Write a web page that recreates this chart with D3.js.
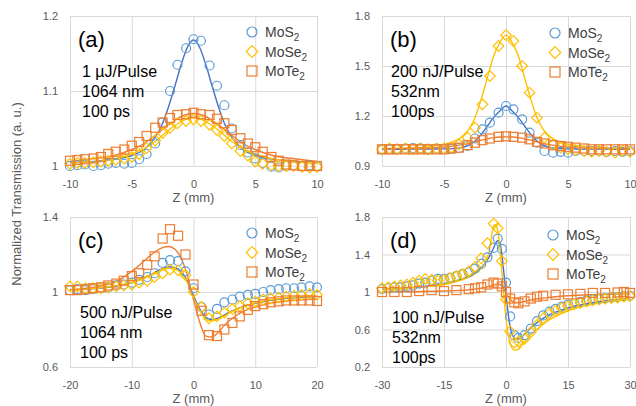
<!DOCTYPE html>
<html>
<head>
<meta charset="utf-8">
<script src="https://cdn.jsdelivr.net/npm/d3@7"></script>
<style>
  html, body { margin: 0; padding: 0; background: #fff; }
  svg { display: block; font-family: "Liberation Sans", Arial, sans-serif; }
</style>
</head>
<body>
<div id="chart"></div>
<script>
// ---------- data ----------
const seriesNames = ["MoS", "MoSe", "MoTe"];

// panel (a): 1 µJ/Pulse, 1064 nm
const zA = [-10,-9.4,-8.8,-8.1,-7.5,-6.9,-6.3,-5.6,-5,-4.4,-3.8,-3.1,-2.5,-1.9,-1.3,-0.6,0,0.6,1.3,1.9,2.5,3.1,3.8,4.4,5,5.6,6.3,6.9,7.5,8.1,8.8,9.4,10];
const mos2A  = [1.000,1.001,1.002,1.000,1.001,1.003,1.004,1.003,1.004,1.009,1.016,1.030,1.058,1.100,1.135,1.157,1.169,1.167,1.134,1.107,1.081,1.050,1.028,1.018,1.010,1.004,0.999,0.998,1.000,1.001,1.000,1.001,1.000];
const mose2A = [1.003,1.004,1.004,1.005,1.006,1.007,1.008,1.010,1.012,1.016,1.024,1.034,1.044,1.051,1.057,1.060,1.062,1.060,1.055,1.048,1.040,1.030,1.020,1.014,1.006,1.003,1.001,1.000,1.000,1.000,0.999,0.998,0.999];
const mote2A = [1.007,1.008,1.009,1.010,1.012,1.016,1.019,1.022,1.027,1.032,1.040,1.051,1.058,1.064,1.068,1.069,1.071,1.069,1.068,1.063,1.057,1.048,1.037,1.030,1.025,1.019,1.012,1.007,1.002,1.001,1.000,1.000,1.000];
const fitZA = [-10,-9,-8,-7,-6,-5,-4,-3.5,-3,-2.5,-2,-1.5,-1,-0.5,0,0.5,1,1.5,2,2.5,3,3.5,4,5,6,7,8,9,10];
const fitMos2A  = [1.004,1.005,1.006,1.008,1.010,1.014,1.022,1.030,1.041,1.057,1.080,1.107,1.135,1.158,1.168,1.158,1.135,1.107,1.080,1.057,1.041,1.030,1.022,1.014,1.010,1.008,1.006,1.005,1.004];
const fitMose2A = [1.004,1.005,1.006,1.008,1.011,1.016,1.023,1.028,1.034,1.041,1.048,1.054,1.059,1.063,1.064,1.063,1.059,1.054,1.048,1.041,1.034,1.028,1.023,1.016,1.011,1.008,1.006,1.005,1.004];
const fitMote2A = [1.006,1.008,1.010,1.012,1.016,1.022,1.030,1.036,1.042,1.049,1.055,1.061,1.066,1.069,1.070,1.069,1.066,1.061,1.055,1.049,1.042,1.036,1.030,1.022,1.016,1.012,1.010,1.008,1.006];

// panel (b): 200 nJ/Pulse, 532 nm
const zB = zA;
const mos2B  = [1.000,1.000,1.003,1.005,1.008,1.006,1.003,1.004,1.002,1.003,1.008,1.020,1.065,1.120,1.160,1.220,1.260,1.240,1.180,1.100,1.040,0.990,0.980,0.985,0.980,0.990,0.990,0.990,0.990,0.985,0.990,0.985,0.990];
const mose2B = [1.000,1.005,1.000,1.005,1.000,1.005,1.000,1.005,1.005,1.010,1.030,1.070,1.130,1.270,1.440,1.620,1.685,1.650,1.500,1.340,1.190,1.070,1.030,1.010,1.000,0.995,0.990,0.985,0.990,0.985,0.980,0.990,0.985];
const mote2B = [1.000,1.000,1.000,1.000,1.000,1.000,1.000,1.000,1.000,1.005,1.010,1.025,1.040,1.055,1.065,1.075,1.078,1.075,1.070,1.060,1.045,1.035,1.025,1.020,1.015,1.010,1.005,1.000,1.000,1.000,1.000,1.000,1.000];
const fitZB = fitZA;
const fitMos2B  = [1.000,1.000,1.001,1.001,1.002,1.003,1.006,1.012,1.025,1.050,1.090,1.140,1.190,1.230,1.260,1.230,1.190,1.140,1.090,1.050,1.025,1.012,1.006,1.003,1.002,1.001,1.001,1.000,1.000];
const fitMose2B = [1.005,1.006,1.008,1.010,1.020,1.030,1.055,1.080,1.120,1.190,1.300,1.430,1.560,1.640,1.685,1.640,1.560,1.430,1.300,1.190,1.120,1.080,1.055,1.030,1.020,1.010,1.008,1.006,1.005];
const fitMote2B = [1.003,1.004,1.005,1.007,1.009,1.014,1.022,1.028,1.035,1.045,1.055,1.063,1.070,1.074,1.075,1.074,1.070,1.063,1.055,1.045,1.035,1.028,1.022,1.014,1.009,1.007,1.005,1.004,1.003];

// panel (c): 500 nJ/Pulse, 1064 nm
const zC = [-20,-18.8,-17.5,-16.3,-15,-13.8,-12.5,-11.3,-10,-8.8,-7.5,-6.3,-5,-3.8,-2.5,-1.3,0,1.3,2.5,3.8,5,6.3,7.5,8.8,10,11.3,12.5,13.8,15,16.3,17.5,18.8,20];
const mos2C  = [1.010,1.015,1.010,1.015,1.020,1.025,1.035,1.040,1.050,1.065,1.080,1.100,1.155,1.170,1.165,1.110,1.020,0.920,0.880,0.910,0.945,0.960,0.975,0.985,0.990,1.000,1.010,1.015,1.020,1.020,1.025,1.030,1.025];
const mose2C = [1.030,1.030,1.020,1.020,1.020,1.025,1.030,1.035,1.040,1.050,1.060,1.080,1.100,1.120,1.115,1.090,1.000,0.920,0.860,0.870,0.890,0.910,0.925,0.940,0.950,0.960,0.965,0.970,0.975,0.980,0.985,0.990,0.985];
const mote2C = [1.010,1.010,1.015,1.020,1.025,1.035,1.045,1.060,1.085,1.100,1.145,1.190,1.285,1.335,1.300,1.200,1.040,0.900,0.770,0.765,0.800,0.835,0.870,0.905,0.925,0.935,0.945,0.950,0.955,0.955,0.955,0.955,0.952];
const fitZC = [-20,-18,-16,-14,-12,-10,-8,-7,-6,-5,-4,-3,-2,-1,0,1,2,3,4,5,6,7,8,10,12,14,16,18,20];
const fitMos2C  = [1.010,1.013,1.018,1.025,1.035,1.050,1.075,1.090,1.110,1.125,1.135,1.130,1.110,1.060,0.980,0.910,0.865,0.852,0.860,0.878,0.895,0.910,0.922,0.940,0.953,0.962,0.968,0.973,0.976];
const fitMose2C = [1.012,1.015,1.020,1.027,1.037,1.050,1.072,1.087,1.102,1.117,1.126,1.122,1.100,1.050,0.970,0.900,0.857,0.846,0.855,0.873,0.892,0.908,0.922,0.942,0.956,0.965,0.972,0.977,0.980];
const fitMote2C = [1.012,1.018,1.026,1.040,1.065,1.110,1.165,1.195,1.220,1.237,1.243,1.228,1.180,1.090,0.960,0.840,0.765,0.760,0.785,0.822,0.852,0.876,0.895,0.920,0.937,0.948,0.955,0.960,0.963];

// panel (d): 100 nJ/Pulse, 532 nm
const zD = [-30,-28.5,-27,-25.5,-24,-22.5,-21,-19.5,-18,-16.5,-15,-13.5,-12,-10.5,-9,-7.5,-6,-4.5,-3,-2,-1,0,1,2,3,4.5,6,7.5,9,10.5,12,13.5,15,16.5,18,19.5,21,22.5,24,25.5,27,28.5,30];
const mos2D  = [1.030,1.040,1.050,1.050,1.060,1.070,1.090,1.100,1.120,1.140,1.140,1.150,1.170,1.190,1.210,1.250,1.300,1.370,1.470,1.570,1.460,1.100,0.740,0.540,0.510,0.540,0.610,0.690,0.750,0.790,0.820,0.845,0.865,0.880,0.895,0.910,0.920,0.930,0.935,0.940,0.945,0.955,0.960];
const mose2D = [1.040,1.050,1.060,1.070,1.080,1.100,1.120,1.140,1.130,1.120,1.130,1.150,1.170,1.190,1.220,1.270,1.360,1.520,1.730,1.680,1.330,0.920,0.580,0.460,0.470,0.500,0.570,0.650,0.720,0.770,0.800,0.830,0.850,0.870,0.885,0.900,0.910,0.920,0.930,0.935,0.940,0.950,0.955];
const mote2D = [1.000,null,1.000,null,1.000,null,1.010,null,1.020,null,1.010,null,1.020,null,1.030,1.040,1.050,1.080,1.100,1.090,1.060,1.000,0.930,0.890,0.880,0.900,0.930,0.950,0.960,null,0.970,null,0.975,null,0.980,null,0.990,null,0.990,null,0.995,1.000,0.990];
const fitZD = [-30,-25,-20,-15,-12,-10,-8,-6,-5,-4,-3,-2.5,-2,-1.5,-1,-0.5,0,0.5,1,1.5,2,2.5,3,4,5,6,8,10,12,15,20,25,30];
const fitMos2D  = [1.030,1.040,1.060,1.090,1.120,1.150,1.190,1.260,1.310,1.380,1.470,1.520,1.550,1.530,1.400,1.200,0.980,0.780,0.630,0.550,0.510,0.500,0.500,0.530,0.575,0.620,0.690,0.745,0.785,0.830,0.880,0.910,0.930];
const fitMose2D = [1.030,1.040,1.055,1.080,1.110,1.140,1.180,1.250,1.310,1.450,1.700,1.720,1.650,1.480,1.220,0.950,0.720,0.550,0.450,0.400,0.380,0.380,0.390,0.440,0.490,0.540,0.620,0.690,0.740,0.800,0.860,0.900,0.930];
const fitMote2D = [1.000,1.002,1.005,1.010,1.015,1.020,1.030,1.040,1.050,1.060,1.075,1.080,1.085,1.080,1.060,1.030,0.990,0.950,0.920,0.900,0.890,0.885,0.885,0.895,0.905,0.915,0.930,0.940,0.950,0.960,0.970,0.975,0.980];

// ticks
const xTicksA = [-10,-5,0,5,10], yTicksA = [1,1.1,1.2];
const xTicksB = [-10,-5,0,5,10], yTicksB = [0.9,1.2,1.5,1.8];
const xTicksC = [-20,-10,0,10,20], yTicksC = [0.6,1,1.4];
const xTicksD = [-30,-15,0,15,30], yTicksD = [0.2,0.6,1,1.4,1.8];

// ---------- styling ----------
const W = 636, H = 406;
const markerColors = ["#5B9BD5", "#FFC000", "#ED7D31"];
const lineColors   = ["#4472C4", "#FFC000", "#ED7D31"];
const textColor = "#595959";

const panels = [
  { label: "(a)", box: [70, 317, 16, 166], xTicks: xTicksA, yTicks: yTicksA,
    z: zA, pts: [mos2A, mose2A, mote2A], fz: fitZA, fits: [fitMos2A, fitMose2A, fitMote2A],
    notes: ["1 µJ/Pulse", "1064 nm", "100 ps"], noteXY: [82, 77], legXY: [252, 32] },
  { label: "(b)", box: [382, 630, 16, 166], xTicks: xTicksB, yTicks: yTicksB,
    z: zB, pts: [mos2B, mose2B, mote2B], fz: fitZB, fits: [fitMos2B, fitMose2B, fitMote2B],
    notes: ["200 nJ/Pulse", "532nm", "100ps"], noteXY: [391, 77], legXY: [555, 33] },
  { label: "(c)", box: [70, 317, 217, 367], xTicks: xTicksC, yTicks: yTicksC,
    z: zC, pts: [mos2C, mose2C, mote2C], fz: fitZC, fits: [fitMos2C, fitMose2C, fitMote2C],
    notes: ["500 nJ/Pulse", "1064 nm", "100 ps"], noteXY: [80, 318], legXY: [252, 233] },
  { label: "(d)", box: [382, 630, 217, 367], xTicks: xTicksD, yTicks: yTicksD,
    z: zD, pts: [mos2D, mose2D, mote2D], fz: fitZD, fits: [fitMos2D, fitMose2D, fitMote2D],
    notes: ["100 nJ/Pulse", "532nm", "100ps"], noteXY: [392, 323], legXY: [553, 235] }
];

const svg = d3.select("#chart").append("svg")
  .attr("width", W).attr("height", H);
svg.append("rect").attr("width", W).attr("height", H).attr("fill", "#fff");

// draw one marker shape at (0,0)
function drawMarker(sel, k, size) {
  const h = size / 2;
  if (k === 0) {
    sel.append("circle").attr("r", h);
  } else if (k === 1) {
    sel.append("path").attr("d", `M0,${-h - 0.8}L${h + 0.8},0L0,${h + 0.8}L${-h - 0.8},0Z`);
  } else {
    sel.append("rect").attr("x", -h).attr("y", -h).attr("width", size).attr("height", size);
  }
  sel.attr("fill", "none").attr("stroke", markerColors[k]).attr("stroke-width", 1.2);
}

panels.forEach(p => {
  const [x0, x1, y0, y1] = p.box;
  const x = d3.scaleLinear().domain(d3.extent(p.xTicks)).range([x0, x1]);
  const y = d3.scaleLinear().domain(d3.extent(p.yTicks)).range([y1, y0]);
  const g = svg.append("g");

  // grid + tick labels
  const ya = g.append("g").attr("transform", `translate(${x0},0)`)
    .call(d3.axisLeft(y).tickValues(p.yTicks).tickSize(-(x1 - x0)).tickPadding(12).tickFormat(d => String(d)));
  const xa = g.append("g").attr("transform", `translate(0,${y1})`)
    .call(d3.axisBottom(x).tickValues(p.xTicks).tickSize(-(y1 - y0)).tickPadding(14).tickFormat(d => String(d)));
  [ya, xa].forEach(a => {
    a.select(".domain").remove();
    a.selectAll(".tick line").attr("stroke", "#d9d9d9").attr("stroke-width", 1);
    a.selectAll(".tick text").attr("fill", textColor).style("font-size", "11px")
      .style("font-family", "'Liberation Sans', Arial, sans-serif");
  });

  // x-axis title
  g.append("text").attr("x", (x0 + x1) / 2).attr("y", y1 + 36)
    .attr("text-anchor", "middle").attr("fill", textColor).style("font-size", "13px")
    .text("Z (mm)");

  // fit curves
  const line = d3.line().defined(d => d[1] != null)
    .x(d => x(d[0])).y(d => y(d[1])).curve(d3.curveMonotoneX);
  p.fits.forEach((f, k) => {
    g.append("path").datum(p.fz.map((z, i) => [z, f[i]]))
      .attr("d", line).attr("fill", "none")
      .attr("stroke", lineColors[k]).attr("stroke-width", 1.4);
  });

  // measured points
  p.pts.forEach((vals, k) => {
    const data = p.z.map((z, i) => [z, vals[i]]).filter(d => d[1] != null);
    g.append("g").selectAll("g").data(data).join("g")
      .attr("transform", d => `translate(${x(d[0])},${y(d[1])})`)
      .each(function() { drawMarker(d3.select(this), k, 9); });
  });

  // panel label
  g.append("text").attr("x", x0 + 8).attr("y", y0 + 31)
    .attr("fill", "#000").style("font-size", "22px").text(p.label);

  // condition notes
  p.notes.forEach((t, i) => {
    g.append("text").attr("x", p.noteXY[0]).attr("y", p.noteXY[1] + i * 20)
      .attr("fill", "#000").style("font-size", "16px").text(t);
  });

  // legend
  seriesNames.forEach((nm, k) => {
    const ly = p.legXY[1] + k * 19.5;
    const m = g.append("g").attr("transform", `translate(${p.legXY[0]},${ly})`);
    drawMarker(m, k, 10);
    const t = g.append("text").attr("x", p.legXY[0] + 13).attr("y", ly + 5)
      .attr("fill", "#404040").style("font-size", "14px");
    t.append("tspan").text(nm);
    t.append("tspan").attr("dy", 4).style("font-size", "10px").text("2");
  });
});

// shared y title
svg.append("text")
  .attr("transform", "translate(21,194) rotate(-90)")
  .attr("text-anchor", "middle").attr("fill", textColor).style("font-size", "13px")
  .text("Normalized Transmission (a. u.)");
</script>
</body>
</html>
